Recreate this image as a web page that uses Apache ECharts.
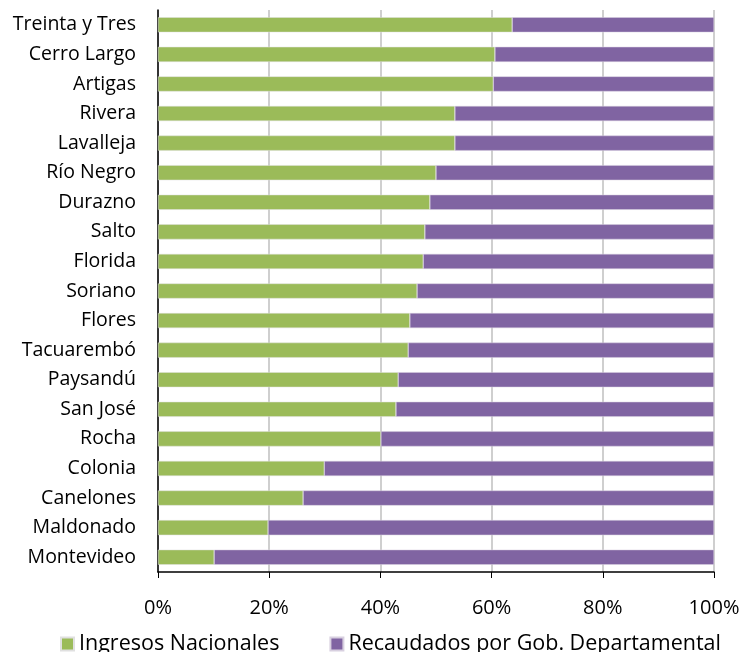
<!DOCTYPE html>
<html>
<head>
<meta charset="utf-8">
<script src="https://cdn.jsdelivr.net/npm/echarts@6/dist/echarts.min.js"></script>
<style>
  html, body { margin: 0; padding: 0; background: #fff; }
  #chart { width: 744px; height: 652px; }
</style>
</head>
<body>
<div id="chart"></div>
<script>
// departamentos, de arriba hacia abajo
const departamentos = ['Treinta y Tres', 'Cerro Largo', 'Artigas', 'Rivera', 'Lavalleja', 'Río Negro',
  'Durazno', 'Salto', 'Florida', 'Soriano', 'Flores', 'Tacuarembó', 'Paysandú', 'San José',
  'Rocha', 'Colonia', 'Canelones', 'Maldonado', 'Montevideo']
// % ingresos nacionales
const nacionales = [63.7, 60.6, 60.3, 53.4, 53.4, 50.0, 48.9, 48.0, 47.7, 46.6, 45.3, 45.0, 43.2, 42.8,
  40.1, 29.9, 26.1, 19.8, 10.1]
// % recaudados por gobierno departamental
const departamentales = [36.3, 39.4, 39.7, 46.6, 46.6, 50.0, 51.1, 52.0, 52.3, 53.4, 54.7, 55.0, 56.8, 57.2,
  59.9, 70.1, 73.9, 80.2, 89.9]
const ticks = [0, 20, 40, 60, 80, 100]

const font = '"Open Sans", sans-serif'
var chart = echarts.init(document.getElementById('chart'))
chart.setOption({
  animation: false,
  grid: { left: 158, right: 30, top: 10, bottom: 80 },
  legend: {
    top: 628,
    left: 55,
    icon: 'rect',
    itemWidth: 13,
    itemHeight: 13,
    itemGap: 50,
    textStyle: { fontFamily: font, fontSize: 21.5, color: '#000' },
    data: ['Ingresos Nacionales', 'Recaudados por Gob. Departamental']
  },
  xAxis: {
    type: 'value',
    min: ticks[0],
    max: ticks[ticks.length - 1],
    interval: 20,
    axisLine: { show: true, lineStyle: { color: '#000', width: 1.5 } },
    axisTick: { show: true, length: 6, lineStyle: { color: '#000' } },
    axisLabel: { formatter: '{value}%', fontFamily: font, fontSize: 20, color: '#000', margin: 26 },
    splitLine: { show: true, lineStyle: { color: '#bfbfbf', width: 1.5 } }
  },
  yAxis: {
    type: 'category',
    inverse: true,
    data: departamentos,
    axisLine: { show: true, lineStyle: { color: '#000', width: 1.5 } },
    axisTick: { show: false },
    axisLabel: { fontFamily: font, fontSize: 19.5, color: '#000', margin: 22 }
  },
  series: [
    {
      name: 'Ingresos Nacionales',
      type: 'bar',
      stack: 'total',
      barCategoryGap: '49%',
      itemStyle: { color: '#9bbb59', borderColor: '#e0e0e0', borderWidth: 0.5 },
      data: nacionales
    },
    {
      name: 'Recaudados por Gob. Departamental',
      type: 'bar',
      stack: 'total',
      barCategoryGap: '49%',
      itemStyle: { color: '#8064a2', borderColor: '#d8d0e0', borderWidth: 0.5 },
      data: departamentales
    }
  ]
})
</script>
</body>
</html>
